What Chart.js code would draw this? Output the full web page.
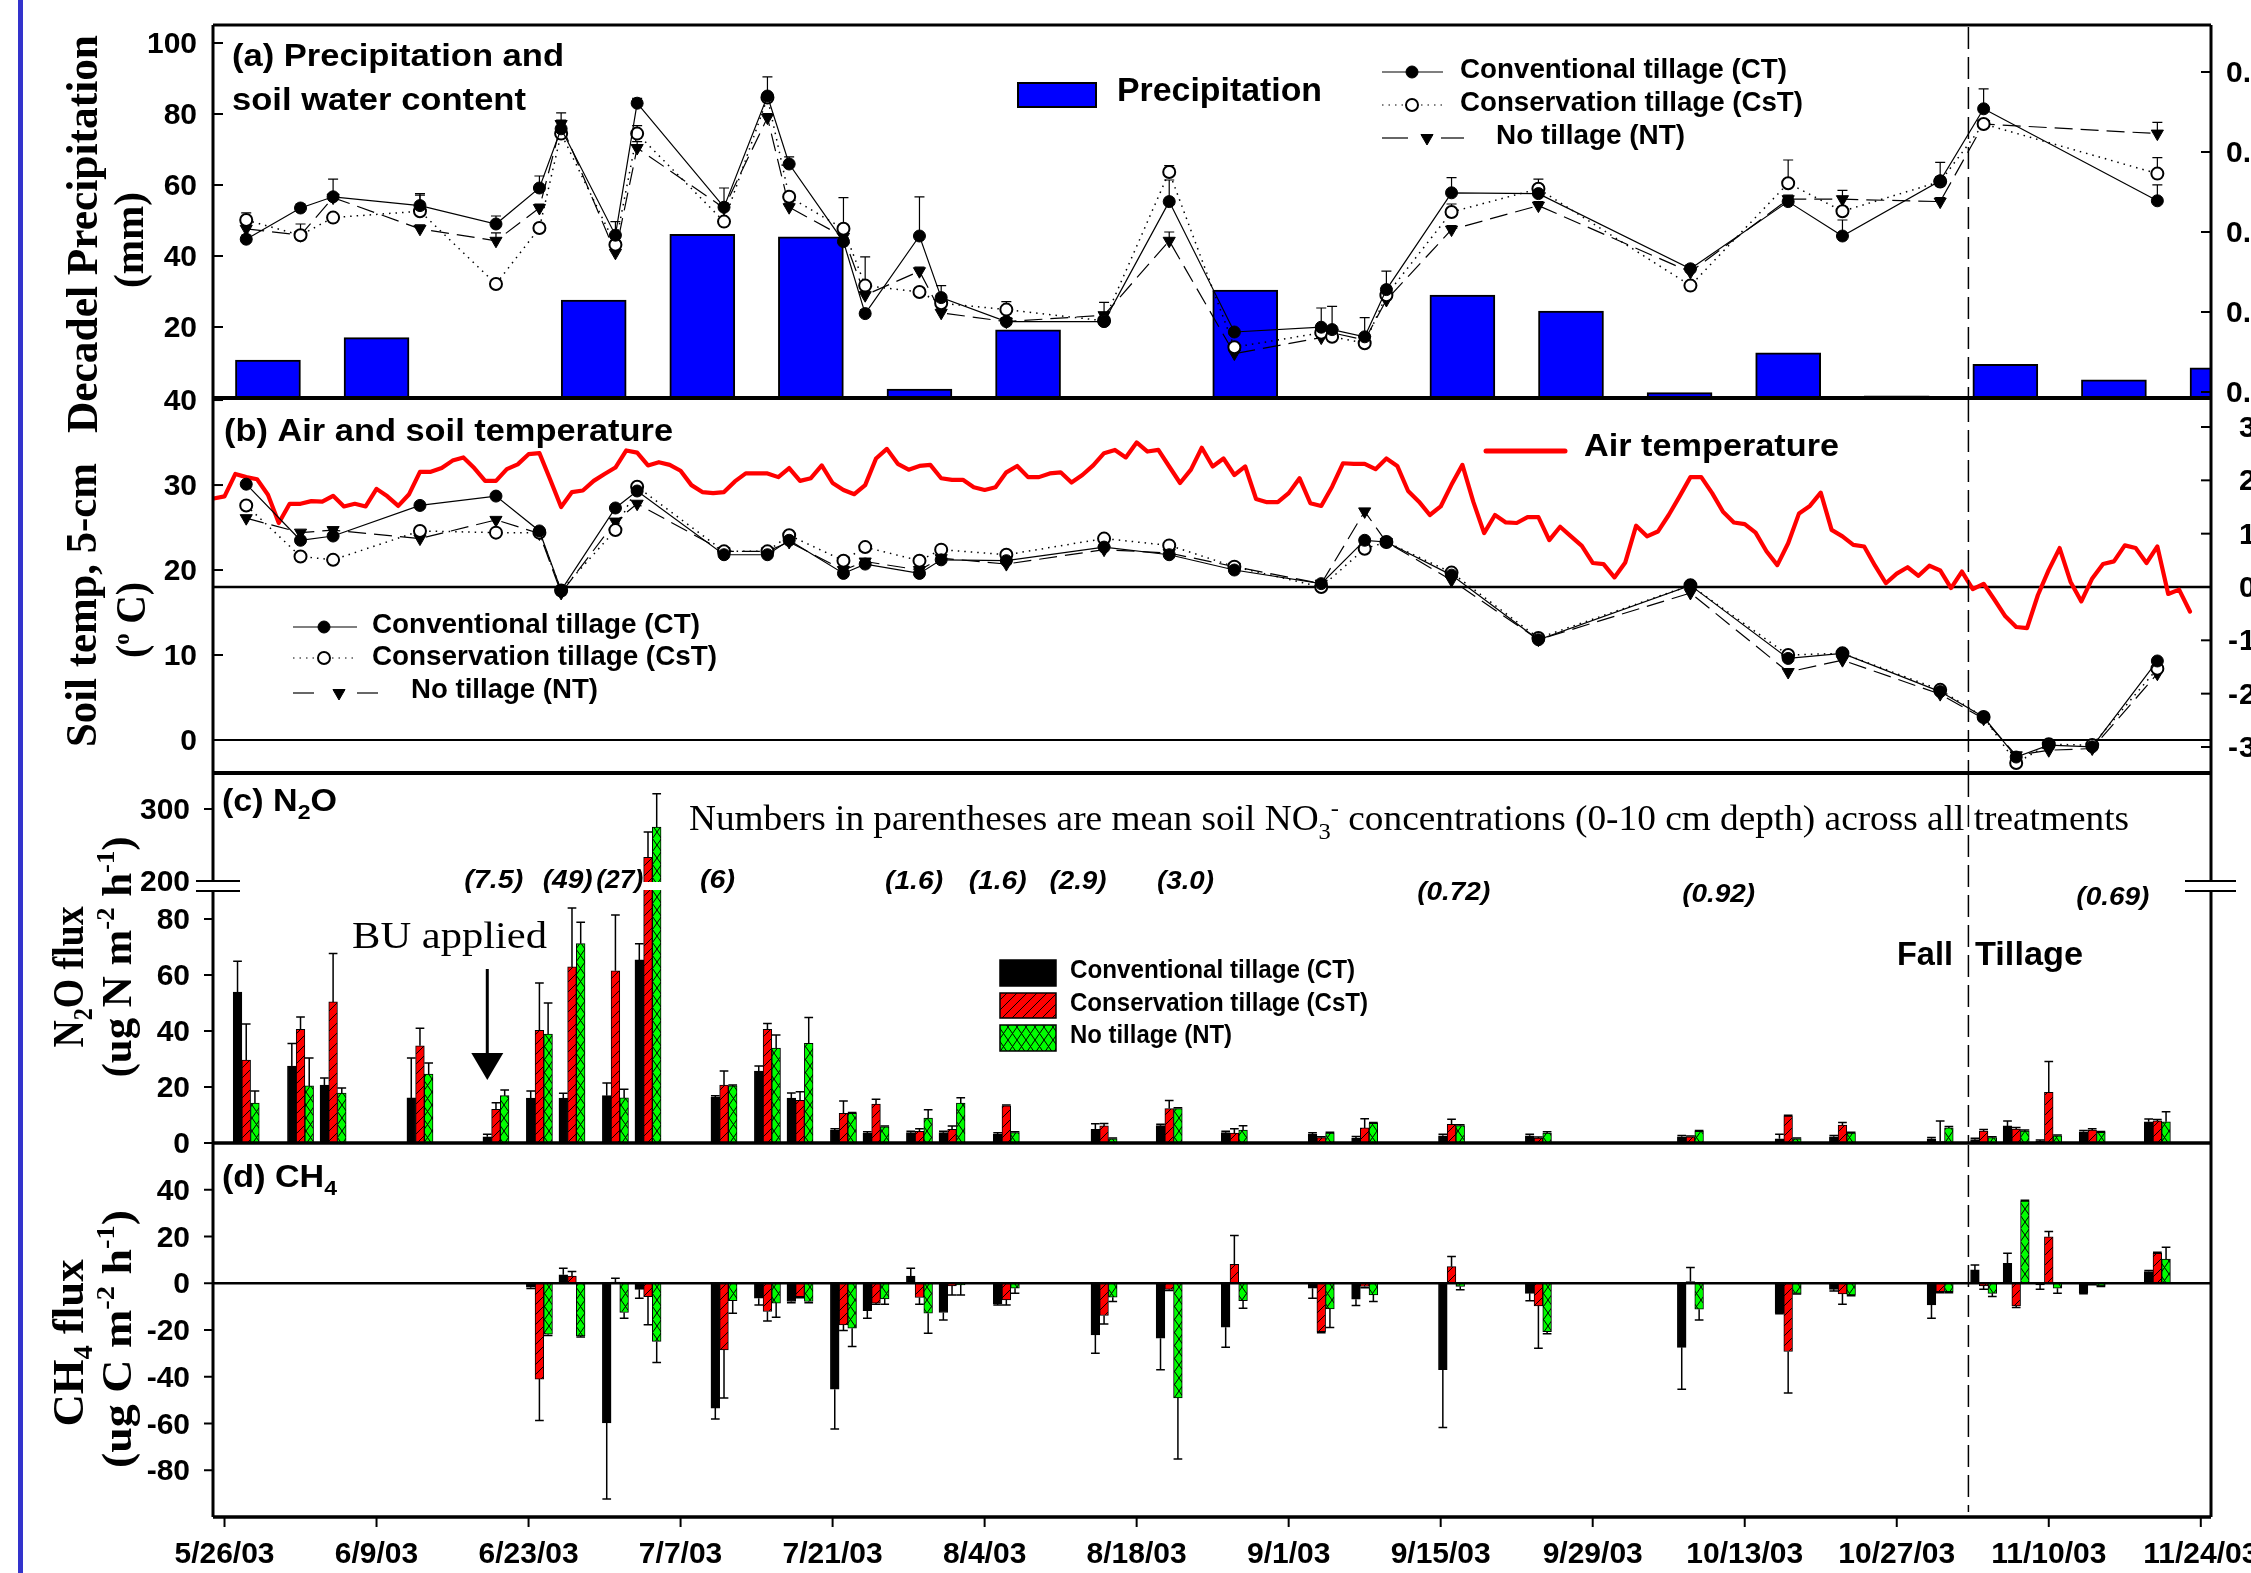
<!DOCTYPE html>
<html>
<head>
<meta charset="utf-8">
<script src="https://cdn.jsdelivr.net/npm/chart.js@4.4.0/dist/chart.umd.min.js"></script>
<style>
html, body { margin:0; padding:0; background:#fff; overflow:hidden; width:2251px; height:1573px; }
.layer { position:absolute; left:0; top:0; }
#stripe { position:absolute; left:18px; top:0; width:5px; height:1573px; background:#3333cc; }
</style>
</head>
<body>
<div id="stripe"></div>
<canvas id="cA" class="layer" width="2300" height="1573"></canvas>
<canvas id="cB" class="layer" width="2300" height="1573"></canvas>
<canvas id="cC" class="layer" width="2300" height="1573"></canvas>
<canvas id="cD" class="layer" width="2300" height="1573"></canvas>
<script>
// ---------------- DATA ----------------
const dateTicks = ['5/26/03','6/9/03','6/23/03','7/7/03','7/21/03','8/4/03','8/18/03','9/1/03','9/15/03','9/29/03','10/13/03','10/27/03','11/10/03','11/24/03'];
const precipTicks = [20, 40, 60, 80, 100];
const swcTicks = [0.1, 0.2, 0.3, 0.4, 0.5];
const soilTTicks = [0, 10, 20, 30, 40];
const airTTicks = [-30, -20, -10, 0, 10, 20, 30];
const n2oTicks = [0, 20, 40, 60, 80, 200, 300];
const ch4Ticks = [-80, -60, -40, -20, 0, 20, 40];

// (a) decadal precipitation (mm)
const precipDates = ['5/30','6/9','6/19','6/29','7/9','7/19','7/29','8/8','8/18','8/28','9/7','9/17','9/27','10/7','10/17','10/27','11/6','11/16','11/26'];
const precipMm = [10.7,17.0,0,27.6,46.1,45.4,2.5,19.2,0,30.4,0,29.0,24.5,1.5,12.7,0.6,9.5,5.1,8.5];

// (a) soil water content (cm3 cm-3)
const swcDates = ['5/28','6/2','6/5','6/13','6/20','6/24','6/26','7/1','7/3','7/11','7/15','7/17','7/22','7/24','7/29','7/31','8/6','8/15','8/21','8/27','9/4','9/5','9/8','9/10','9/16','9/24','10/8','10/17','10/22','10/31','11/4','11/20'];
const swcCT  = [0.291,0.330,0.344,0.333,0.310,0.355,0.429,0.296,0.461,0.331,0.470,0.385,0.288,0.198,0.295,0.218,0.188,0.188,0.338,0.175,0.181,0.178,0.169,0.228,0.349,0.348,0.254,0.338,0.295,0.364,0.454,0.339];
const swcCsT = [0.315,0.296,0.318,0.326,0.235,0.305,0.423,0.284,0.423,0.313,0.468,0.344,0.304,0.233,0.225,0.211,0.203,0.189,0.375,0.156,0.174,0.169,0.161,0.221,0.325,0.354,0.233,0.361,0.326,0.363,0.435,0.373];
const swcNT  = [0.304,0.296,0.343,0.304,0.289,0.330,0.435,0.274,0.405,0.330,0.443,0.331,0.294,0.221,0.251,0.199,0.188,0.196,0.289,0.148,0.168,0.174,0.165,0.215,0.303,0.333,0.250,0.341,0.341,0.338,0.435,0.423];
const swcErrCT  = [0.005,0.005,0.022,0.015,0.010,0.015,0.020,0.017,0.006,0.005,0.024,0.009,0.005,0.005,0.049,0.015,0.005,0.005,0.027,0.015,0.024,0.029,0.024,0.023,0.019,0.018,0.005,0.005,0.020,0.005,0.025,0.020];
const swcErrCsT = [0.009,0.014,0.005,0.020,0.005,0.005,0.005,0.005,0.010,0.005,0.005,0.005,0.039,0.036,0.005,0.005,0.010,0.005,0.008,0.005,0.005,0.005,0.005,0.005,0.010,0.005,0.005,0.029,0.005,0.024,0.005,0.020];
const swcErrNT  = [0.005,0.005,0.005,0.005,0.010,0.005,0.005,0.005,0.008,0.025,0.005,0.005,0.005,0.005,0.005,0.005,0.005,0.016,0.011,0.005,0.005,0.005,0.005,0.005,0.005,0.005,0.005,0.005,0.011,0.005,0.005,0.014];

// (b) daily air temperature (deg C), starting 5/25/03
const airTempStart = '5/25/03';
const airTemp = [16.6,17.0,21.2,20.6,20.2,17.3,12.0,15.6,15.6,16.1,16.0,
 17.1,15.1,15.6,15.1,18.4,17.0,15.2,17.4,21.6,21.6,
 22.3,23.7,24.3,22.3,19.9,19.9,22.1,23.0,24.9,25.1,
 20.1,15.0,17.8,18.1,19.9,21.2,22.4,25.6,25.2,22.8,
 23.4,22.9,21.8,19.1,17.8,17.6,17.8,19.8,21.3,21.3,
 21.3,20.6,22.3,19.9,20.4,22.8,19.5,18.2,17.4,19.1,
 24.1,25.9,23.1,22.0,22.7,22.9,20.4,20.1,20.1,18.7,
 18.2,18.7,21.5,22.7,20.6,20.6,21.3,21.5,19.6,21.0,
 22.8,25.1,25.7,24.3,27.1,25.4,25.7,22.6,19.5,22.0,
 26.1,22.6,24.1,21.0,22.6,16.5,15.9,15.9,17.6,20.4,
 15.7,15.2,18.8,23.2,23.1,23.1,22.1,24.1,22.7,18.0,
 16.0,13.5,15.1,19.2,22.9,16.0,10.1,13.5,12.1,12.0,
 13.1,13.1,8.8,11.3,9.5,7.7,4.5,4.3,1.8,4.6,
 11.5,9.5,10.4,13.5,17.0,20.6,20.6,17.6,14.1,12.1,
 11.8,10.2,6.7,4.1,8.2,13.8,15.2,17.7,10.7,9.5,
 7.9,7.6,4.0,0.7,2.5,3.7,2.1,4.0,3.1,-0.2,
 2.9,-0.4,0.6,-2.4,-5.5,-7.5,-7.7,-1.5,3.2,7.3,
 1.0,-2.7,1.6,4.3,4.8,7.8,7.3,4.5,7.6,-1.3,
 -0.5,-4.6];

// (b) soil temperature at 5 cm (deg C)
const soilTDates = ['5/28','6/2','6/5','6/13','6/20','6/24','6/26','7/1','7/3','7/11','7/15','7/17','7/22','7/24','7/29','7/31','8/6','8/15','8/21','8/27','9/4','9/8','9/10','9/16','9/24','10/8','10/17','10/22','10/31','11/4','11/7','11/10','11/14','11/20'];
const soilTCT  = [30.1,23.5,24.0,27.6,28.7,24.6,17.6,27.3,29.3,21.8,21.8,23.5,19.6,20.7,19.6,21.2,21.1,22.7,21.8,20.0,18.4,23.5,23.3,19.4,11.8,18.2,9.6,10.2,5.7,2.7,-2.0,-0.6,-0.8,9.3];
const soilTCsT = [27.6,21.6,21.2,24.6,24.4,24.4,17.6,24.7,29.8,22.2,22.2,24.1,21.1,22.7,21.1,22.4,21.8,23.7,22.9,20.4,18.0,22.5,23.3,19.7,12.0,18.2,10.0,10.2,5.9,2.7,-2.7,-0.5,-0.6,8.4];
const soilTNT  = [26.1,24.4,24.7,23.7,25.9,24.3,17.3,25.7,27.8,22.2,22.2,23.3,20.0,21.0,20.0,21.4,20.7,22.4,22.0,20.4,18.4,26.9,23.3,18.8,11.8,17.3,8.0,9.4,5.4,2.5,-1.8,-1.2,-1.0,7.8];

// (c) N2O flux (ug N m-2 h-1)
const n2oDates = ['5/28','6/2','6/5','6/13','6/20','6/24','6/27','7/1','7/4','7/11','7/15','7/18','7/22','7/25','7/29','8/1','8/6','8/15','8/21','8/27','9/4','9/8','9/16','9/24','10/8','10/17','10/22','10/31','11/4','11/7','11/10','11/14','11/20'];
const n2oCT  = [53.9,27.5,20.7,16.1,2.2,16.0,16.0,16.9,65.4,16.4,25.7,16.0,4.6,3.5,3.7,3.7,3.2,4.9,6.2,3.7,3.2,1.8,2.6,2.6,2.2,1.5,2.2,1.5,1.2,6.1,0.6,4.0,7.6];
const n2oCsT = [29.6,40.6,50.4,34.7,12.0,40.2,62.9,61.5,233,20.7,40.6,15.2,10.6,13.9,4.2,4.9,13.3,6.1,12.3,3.5,1.9,5.4,6.7,1.8,2.2,9.6,6.4,0.5,4.3,5.0,18.1,4.6,7.9];
const n2oNT  = [14.3,20.4,17.8,24.6,16.9,38.9,71.2,16.1,275,20.4,33.9,35.6,10.6,5.8,8.9,14.3,3.7,1.5,12.3,4.6,3.5,7.0,6.2,3.5,4.2,1.5,3.5,5.4,1.9,4.3,2.6,3.8,7.6];
const n2oErrCT  = [11,8,2.5,14.3,0.9,2.6,1.8,4.5,5.8,0.5,1.8,1.9,0.5,0.5,0.5,0.5,0.5,2.0,0.5,0.5,0.5,0.5,0.5,0.5,0.5,1.6,0.5,0.5,0.5,1.8,0.5,0.5,1.0];
const n2oErrCsT = [12.9,4.4,17.3,6.3,2.4,16.9,21,19.9,35,5.0,2.1,3.1,4.4,1.7,0.9,1.2,0.3,0.9,2.9,1.6,0.3,3.3,1.8,0.3,0.3,0.3,0.9,7.4,0.5,0.5,11,0.5,0.5];
const n2oErrNT  = [4.3,10,1.8,4,2,11.1,7.6,3.1,46,0.3,4.7,9.2,0.3,0.3,3,1.9,0.3,0.3,0.3,1.6,0.3,0.3,0.3,0.5,0.3,0.3,0.3,0.5,0.3,0.3,0.3,0.3,3.6];

// soil NO3- notes (text, centre day after 5/26/03)
const no3Text = ['(7.5)','(49)','(27)','(6)','(1.6)','(1.6)','(2.9)','(3.0)','(0.72)','(0.92)','(0.69)'];
const no3Day  = [24.8,31.6,36.4,45.4,63.5,71.2,78.6,88.5,113.2,137.6,173.9];

// (d) CH4 flux (ug C m-2 h-1)
const ch4Dates = ['6/24','6/27','7/1','7/4','7/11','7/15','7/18','7/22','7/25','7/29','8/1','8/6','8/15','8/21','8/27','9/4','9/8','9/16','9/24','10/8','10/17','10/22','10/31','11/4','11/7','11/10','11/14','11/20'];
const ch4CT  = [-1.7,3.6,-59.8,-2.6,-53.4,-6.4,-7.8,-45.3,-11.7,3.1,-12.5,-8.8,-22.1,-23.5,-18.8,-2.1,-6.8,-37.0,-4.3,-27.4,-12.8,-2.6,-9.3,5.7,8.5,-0.7,-4.0,5.0];
const ch4CsT = [-41.0,3.1,0.5,-5.7,-28.5,-12.1,-5.7,-17.8,-8.5,-6.1,-1.1,-7.1,-13.8,-2.6,8.1,-20.7,-1.4,7.1,-9.7,0.7,-29.2,-4.6,-3.6,-1.1,-9.7,19.9,-0.3,12.8];
const ch4NT  = [-21.8,-22.5,-12.5,-24.9,-7.5,-8.5,-7.8,-19.2,-6.7,-12.8,-0.7,-2.1,-6.0,-49.1,-7.5,-11.0,-5.0,-1.4,-20.7,-11.1,-4.3,-5.0,-3.6,-4.3,35.2,-2.1,-1.1,10.3];
const ch4ErrCT  = [0.5,2.8,32.5,3.8,4.7,2.9,0.5,17.1,3.3,3.3,3.2,0.5,7.8,13.5,8.6,4.3,2.7,24.7,3.2,17.9,0.3,0.7,5.7,2.1,4.3,1.9,0.5,0.5];
const ch4ErrCsT = [17.7,1.9,1.6,12.1,20.6,4.0,0.5,2.4,0.5,2.9,3.9,2.2,3.6,0.5,12.3,0.5,0.5,4.3,18.1,6.0,17.8,4.4,0.5,1.5,0.7,2.2,0.3,0.5];
const ch4ErrNT  = [0.5,0.5,2.5,9.0,5.3,6.0,0.5,7.9,2.3,8.6,4.3,2.2,1.8,26.1,3.2,7.9,2.8,1.4,0.9,4.6,0.3,0.3,0.5,1.4,0.3,2.2,0.3,5.1];

// events
const fallTillageDay = 160.6;
const buAppliedDay = 24.2;

// ---------------- HELPERS ----------------
const W = 2300, H = 1573;
const X_MIN = -1.06, X_MAX = 182.94;
const LEFT_W = 213, PLOT_R = 2211, RIGHT_W = W - PLOT_R;
const SANS = '"Liberation Sans", Arial, Helvetica, sans-serif';
const SERIF = '"Liberation Serif", "Times New Roman", Times, serif';
const B = px => `bold ${px}px ${SANS}`;
const TB = px => `bold ${px}px ${SERIF}`;
const BASE = Date.UTC(2003, 4, 26);
function day(s) { const p = s.split('/'); return (Date.UTC(2003, +p[0] - 1, +p[1]) - BASE) / 864e5; }
const pts = (dates, vals) => dates.map((d, i) => ({ x: day(d), y: vals[i] }));

const N2O_LO = 90, N2O_HI = 200, N2O_GAP = 10 / 2.8, N2O_UP = 0.72 / 2.8;
function n2oU(v) {
  if (v <= N2O_LO) return v;
  if (v >= N2O_HI) return N2O_LO + N2O_GAP + (v - N2O_HI) * N2O_UP;
  return N2O_LO + (v - N2O_LO) / (N2O_HI - N2O_LO) * N2O_GAP;
}

function rich(g, parts, x, y, width, align) {
  g.save();
  const ws = parts.map(p => { g.font = p.f; return g.measureText(p.t).width; });
  const total = ws.reduce((a, b) => a + b, 0);
  const sx = width ? width / total : 1;
  g.translate(x, y); g.scale(sx, 1);
  let cx = align === 'center' ? -total / 2 : (align === 'right' ? -total : 0);
  g.textAlign = 'left'; g.textBaseline = 'alphabetic'; g.fillStyle = '#000';
  parts.forEach((p, i) => { g.font = p.f; g.fillText(p.t, cx, p.dy || 0); cx += ws[i]; });
  g.restore();
}
function text(g, t, f, x, y, width, align) { rich(g, [{ t, f }], x, y, width, align); }
function vtext(g, parts, bx, cy, len) {
  g.save(); g.translate(bx, cy); g.rotate(-Math.PI / 2);
  rich(g, parts, 0, 0, len, 'center'); g.restore();
}

function hatch(bg, kind) {
  const c = document.createElement('canvas');
  const w = kind === 'diag' ? 10 : 9, h = kind === 'diag' ? 10 : 13;
  c.width = w; c.height = h;
  const g = c.getContext('2d');
  g.fillStyle = bg; g.fillRect(0, 0, w, h);
  g.strokeStyle = '#000'; g.lineWidth = 1; g.beginPath();
  if (kind === 'diag') {
    g.moveTo(0, h); g.lineTo(w, 0);
    g.moveTo(-w, h); g.lineTo(w, -h);
    g.moveTo(0, 2 * h); g.lineTo(2 * w, 0);
  } else {
    g.moveTo(0, 0); g.lineTo(w, h); g.moveTo(0, h); g.lineTo(w, 0);
  }
  g.stroke();
  return g.createPattern(c, 'repeat');
}
const PAT_RED = hatch('#ff0000', 'diag');
const PAT_GREEN = hatch('#00ff00', 'cross');

// tick marks + labels; labels right-aligned at labelX, or (leftAlign) digits starting at labelX with a hanging minus sign
function yAxisDecor(c, id, vals, o) {
  const s = c.scales[id], a = c.chartArea, g = c.ctx;
  g.save(); g.strokeStyle = '#000'; g.lineWidth = 2; g.fillStyle = '#000';
  g.font = o.font; g.textBaseline = 'alphabetic';
  vals.forEach(v => {
    const y = s.getPixelForValue(o.map ? o.map(v) : v);
    const x0 = o.side === 'left' ? a.left : a.right;
    const dir = ((o.side === 'left') === o.inside) ? 1 : -1;
    g.beginPath(); g.moveTo(x0, y); g.lineTo(x0 + dir * o.tick, y); g.stroke();
    const lab = o.fmt ? o.fmt(v) : String(v);
    if (o.leftAlign) {
      const neg = lab.startsWith('-');
      const body = neg ? lab.slice(1) : lab;
      g.textAlign = 'left'; g.fillText(body, o.labelX, y + o.dy);
      if (neg) { g.textAlign = 'right'; g.fillText('-', o.labelX - 1, y + o.dy); }
    } else {
      g.textAlign = 'right'; g.fillText(lab, o.labelX, y + o.dy);
    }
  });
  g.restore();
}

function errBars(c, dsIndex, ends, capW, lw) {
  const meta = c.getDatasetMeta(dsIndex), ys = c.scales[meta.yAxisID], g = c.ctx;
  g.save(); g.strokeStyle = '#000'; g.lineWidth = lw || 1.5; g.setLineDash([]);
  meta.data.forEach((el, i) => {
    const e = ends[i]; if (e == null) return;
    const yE = ys.getPixelForValue(e);
    const w = (capW || el.width) / 2;
    g.beginPath(); g.moveTo(el.x, el.y); g.lineTo(el.x, yE);
    g.moveTo(el.x - w, yE); g.lineTo(el.x + w, yE); g.stroke();
  });
  g.restore();
}
const barEnds = (v, e, f) => v.map((x, i) => (f || (z => z))(x + (x < 0 ? -e[i] : e[i])));

function hline(g, x0, x1, y, lw) { g.save(); g.strokeStyle = '#000'; g.lineWidth = lw; g.beginPath(); g.moveTo(x0, y); g.lineTo(x1, y); g.stroke(); g.restore(); }
function vline(g, x, y0, y1, lw) { g.save(); g.strokeStyle = '#000'; g.lineWidth = lw; g.beginPath(); g.moveTo(x, y0); g.lineTo(x, y1); g.stroke(); g.restore(); }

function fallLine(c, yEndTrim) {
  const g = c.ctx, a = c.chartArea, x = c.scales.x.getPixelForValue(fallTillageDay);
  g.save(); g.strokeStyle = '#000'; g.lineWidth = 1.5; g.setLineDash([22, 8]);
  g.beginPath(); g.moveTo(x, a.top + 2); g.lineTo(x, a.bottom - (yEndTrim || 0)); g.stroke(); g.restore();
}

function symbol(g, kind, x, y) {
  g.save(); g.setLineDash([]);
  g.strokeStyle = '#000';
  if (kind === 'CsT') { g.fillStyle = '#fff'; g.lineWidth = 2; }
  else { g.fillStyle = '#000'; g.lineWidth = 1; }
  Chart.helpers.drawPoint(g, {
    pointStyle: kind === 'NT' ? 'triangle' : 'circle',
    rotation: kind === 'NT' ? 180 : 0,
    radius: kind === 'NT' ? 7 : 6,
    borderWidth: kind === 'CsT' ? 2 : 1
  }, x, y);
  g.restore();
}
function legendLine(g, kind, segs, mx, y) {
  g.save(); g.strokeStyle = '#000'; g.lineWidth = 1.2;
  if (kind === 'CsT') g.setLineDash([1.5, 5]);
  segs.forEach(([a, b]) => { g.beginPath(); g.moveTo(a, y); g.lineTo(b, y); g.stroke(); });
  g.restore();
  symbol(g, kind, mx, y);
}

function lineStyle(kind) {
  if (kind === 'CT') return { borderColor: '#000', borderWidth: 1.2, pointStyle: 'circle', pointRadius: 6, pointBackgroundColor: '#000', pointBorderColor: '#000', pointBorderWidth: 1 };
  if (kind === 'CsT') return { borderColor: '#000', borderWidth: 1.5, borderDash: [1.5, 5], pointStyle: 'circle', pointRadius: 6, pointBackgroundColor: '#fff', pointBorderColor: '#000', pointBorderWidth: 2 };
  return { borderColor: '#000', borderWidth: 1.2, borderDash: [18, 8], pointStyle: 'triangle', pointRotation: 180, pointRadius: 7, pointBackgroundColor: '#000', pointBorderColor: '#000', pointBorderWidth: 1 };
}

function yScale(pos, min, max, width) {
  return { type: 'linear', position: pos, min, max, beginAtZero: false,
    afterFit: s => { s.width = width; },
    ticks: { display: false }, grid: { display: false }, border: { display: false } };
}

function makeChart(id, type, top, bottom, datasets, yScales, hooks, showX) {
  const scales = {
    x: { type: 'linear', min: X_MIN, max: X_MAX, offset: false, display: !!showX,
      grid: { display: false, offset: false }, border: { display: false }, ticks: { display: false } }
  };
  if (showX) scales.x.afterFit = s => { s.height = H - bottom; };
  Object.assign(scales, yScales);
  const hasRight = Object.values(yScales).some(s => s.position === 'right');
  return new Chart(document.getElementById(id), {
    type, data: { datasets },
    options: {
      responsive: false, animation: false, devicePixelRatio: 1, events: [],
      layout: { padding: { top, bottom: showX ? 0 : H - bottom, left: 0, right: hasRight ? 0 : RIGHT_W } },
      plugins: { legend: { display: false }, tooltip: { enabled: false } },
      scales
    },
    plugins: [{ id: 'decor' + id,
      beforeDatasetsDraw: c => { if (hooks.before) hooks.before(c); },
      afterDatasetsDraw: c => { if (hooks.after) hooks.after(c); } }]
  });
}

const TICKFONT = B(30);

// ---------------- PANEL A ----------------
makeChart('cA', 'bar', 25, 398, [
  Object.assign({ type: 'line', data: pts(swcDates, swcCT), yAxisID: 'y2', order: 0, clip: false, tension: 0 }, lineStyle('CT')),
  Object.assign({ type: 'line', data: pts(swcDates, swcCsT), yAxisID: 'y2', order: 0, clip: false, tension: 0 }, lineStyle('CsT')),
  Object.assign({ type: 'line', data: pts(swcDates, swcNT), yAxisID: 'y2', order: 0, clip: false, tension: 0 }, lineStyle('NT')),
  { type: 'bar', data: pts(precipDates, precipMm), yAxisID: 'y', order: 1, backgroundColor: '#0000ff', borderColor: '#000', borderWidth: 2, barThickness: 65 }
], {
  y: yScale('left', 0, 105.07, LEFT_W),
  y2: yScale('right', 0.0925, 0.55875, RIGHT_W)
}, {
  before: c => {
    errBars(c, 0, swcCT.map((v, i) => v + swcErrCT[i]), 10, 1.2);
    errBars(c, 1, swcCsT.map((v, i) => v + swcErrCsT[i]), 10, 1.2);
    errBars(c, 2, swcNT.map((v, i) => v + swcErrNT[i]), 10, 1.2);
  },
  after: c => {
    const g = c.ctx, a = c.chartArea;
    hline(g, a.left, a.right, a.top, 3);
    hline(g, a.left, a.right, a.bottom, 4);
    vline(g, a.left, a.top, a.bottom, 3);
    vline(g, a.right, a.top, a.bottom, 3);
    yAxisDecor(c, 'y', precipTicks, { side: 'left', inside: true, tick: 10, labelX: 197, dy: 10, font: TICKFONT });
    yAxisDecor(c, 'y2', swcTicks, { side: 'right', inside: true, tick: 10, labelX: 2226, dy: 10, font: TICKFONT, fmt: v => v.toFixed(1), leftAlign: true });
    text(g, '(a) Precipitation and', B(31), 232, 66, 332);
    text(g, 'soil water content', B(31), 232, 110, 294);
    g.save(); g.fillStyle = '#0000ff'; g.fillRect(1018, 83, 78, 24); g.strokeStyle = '#000'; g.lineWidth = 2; g.strokeRect(1018, 83, 78, 24); g.restore();
    text(g, 'Precipitation', B(33), 1117, 101, 205);
    legendLine(g, 'CT', [[1382, 1443]], 1412, 72);
    legendLine(g, 'CsT', [[1382, 1443]], 1412, 105);
    legendLine(g, 'NT', [[1382, 1408], [1441, 1464]], 1427, 138);
    text(g, 'Conventional tillage (CT)', B(27), 1460, 78, 327);
    text(g, 'Conservation tillage (CsT)', B(27), 1460, 111, 343);
    text(g, 'No tillage (NT)', B(27), 1496, 144, 189);
    vtext(g, [{ t: 'Decadel Precipitation', f: TB(44) }], 97, 234, 398);
    vtext(g, [{ t: '(mm)', f: TB(42) }], 143, 240, 96);
    fallLine(c);
  }
});

// ---------------- PANEL B ----------------
makeChart('cB', 'line', 398, 773, [
  Object.assign({ data: pts(soilTDates, soilTCT), yAxisID: 'y', clip: false, tension: 0 }, lineStyle('CT')),
  Object.assign({ data: pts(soilTDates, soilTCsT), yAxisID: 'y', clip: false, tension: 0 }, lineStyle('CsT')),
  Object.assign({ data: pts(soilTDates, soilTNT), yAxisID: 'y', clip: false, tension: 0 }, lineStyle('NT')),
  { data: airTemp.map((v, i) => ({ x: day(airTempStart) + i, y: v })), yAxisID: 'y2', borderColor: '#ff0000', borderWidth: 4.2, pointRadius: 0, tension: 0, borderJoinStyle: 'round', borderCapStyle: 'round' }
], {
  y: yScale('left', -3.88, 40.24, LEFT_W),
  y2: yScale('right', -34.88, 35.44, RIGHT_W)
}, {
  before: c => {
    const g = c.ctx, a = c.chartArea;
    hline(g, a.left, a.right, c.scales.y.getPixelForValue(0), 2);
    hline(g, a.left, a.right, c.scales.y2.getPixelForValue(0), 2.5);
  },
  after: c => {
    const g = c.ctx, a = c.chartArea;
    hline(g, a.left, a.right, a.top, 4);
    hline(g, a.left, a.right, a.bottom, 4);
    vline(g, a.left, a.top, a.bottom, 3);
    vline(g, a.right, a.top, a.bottom, 3);
    yAxisDecor(c, 'y', soilTTicks, { side: 'left', inside: true, tick: 10, labelX: 197, dy: 10, font: TICKFONT });
    yAxisDecor(c, 'y2', airTTicks, { side: 'right', inside: true, tick: 10, labelX: 2239, dy: 10, font: TICKFONT, leftAlign: true });
    text(g, '(b) Air and soil temperature', B(31), 224, 441, 449);
    g.save(); g.strokeStyle = '#ff0000'; g.lineWidth = 5; g.lineCap = 'round'; g.beginPath(); g.moveTo(1486, 451); g.lineTo(1565, 451); g.stroke(); g.restore();
    text(g, 'Air temperature', B(31), 1584, 456, 255);
    legendLine(g, 'CT', [[293, 357]], 324, 627);
    legendLine(g, 'CsT', [[293, 357]], 324, 658);
    legendLine(g, 'NT', [[293, 314], [357, 378]], 339, 693);
    text(g, 'Conventional tillage (CT)', B(27), 372, 633, 328);
    text(g, 'Conservation tillage (CsT)', B(27), 372, 665, 345);
    text(g, 'No tillage (NT)', B(27), 411, 698, 187);
    vtext(g, [{ t: 'Soil temp, 5-cm', f: TB(44) }], 96, 605, 284);
    vtext(g, [{ t: '(', f: TB(42) }, { t: 'o', f: TB(24), dy: -16 }, { t: ' C)', f: TB(42) }], 145, 620, 76);
    fallLine(c);
  }
});

// ---------------- PANEL C ----------------
const barCommon = { borderColor: '#000', borderWidth: 1, barThickness: 8.7 };
makeChart('cC', 'bar', 773, 1143, [
  Object.assign({ data: pts(n2oDates, n2oCT.map(n2oU)), stack: 'ct', backgroundColor: '#000' }, barCommon),
  Object.assign({ data: pts(n2oDates, n2oCsT.map(n2oU)), stack: 'cst', backgroundColor: PAT_RED }, barCommon),
  Object.assign({ data: pts(n2oDates, n2oNT.map(n2oU)), stack: 'nt', backgroundColor: PAT_GREEN }, barCommon)
], {
  y: yScale('left', 0, 132.14, LEFT_W)
}, {
  after: c => {
    const g = c.ctx, a = c.chartArea, ys = c.scales.y;
    errBars(c, 0, barEnds(n2oCT, n2oErrCT, n2oU));
    errBars(c, 1, barEnds(n2oCsT, n2oErrCsT, n2oU));
    errBars(c, 2, barEnds(n2oNT, n2oErrNT, n2oU));
    const yHi = ys.getPixelForValue(n2oU(N2O_HI)), yLo = ys.getPixelForValue(N2O_LO);
    g.save(); g.fillStyle = '#fff'; g.fillRect(a.left + 2, yHi + 1, a.right - a.left - 4, yLo - yHi - 2); g.restore();
    hline(g, a.left, a.right, a.top, 4);
    hline(g, a.left, a.right, a.bottom, 3.5);
    vline(g, a.left, a.top, yHi, 3); vline(g, a.left, yLo, a.bottom, 3);
    vline(g, a.right, a.top, yHi, 3); vline(g, a.right, yLo, a.bottom, 3);
    hline(g, 196, 240, yHi, 2); hline(g, 196, 240, yLo, 2);
    hline(g, 2185, 2236, yHi, 2); hline(g, 2185, 2236, yLo, 2);
    yAxisDecor(c, 'y', n2oTicks, { side: 'left', inside: false, tick: 9, labelX: 190, dy: 10, font: TICKFONT, map: n2oU });
    rich(g, [{ t: '(c) N', f: B(31) }, { t: '2', f: B(21), dy: 8 }, { t: 'O', f: B(31) }], 222, 811, 115);
    rich(g, [{ t: 'Numbers in parentheses are mean soil NO', f: `35px ${SERIF}` }, { t: '3', f: `23px ${SERIF}`, dy: 9 },
      { t: '-', f: `23px ${SERIF}`, dy: -14 }, { t: ' concentrations (0-10 cm depth) across all treatments', f: `35px ${SERIF}` }], 689, 830, 1440);
    const xs = c.scales.x;
    const no3Base = [888, 888, 888, 888, 889, 889, 889, 889, 900, 902, 905];
    const no3W = [59, 50, 47, 35, 58, 58, 57, 57, 73, 73, 73];
    no3Text.forEach((t, i) => text(g, t, `italic bold 25px ${SANS}`, xs.getPixelForValue(no3Day[i]), no3Base[i], no3W[i], 'center'));
    text(g, 'BU applied', `38px ${SERIF}`, 352, 948, 195);
    const ax = xs.getPixelForValue(buAppliedDay);
    vline(g, ax, 969, 1054, 3);
    g.save(); g.fillStyle = '#000'; g.beginPath(); g.moveTo(ax - 16, 1053); g.lineTo(ax + 16, 1053); g.lineTo(ax, 1080); g.closePath(); g.fill(); g.restore();
    g.save(); g.strokeStyle = '#000'; g.lineWidth = 1.5;
    g.fillStyle = '#000'; g.fillRect(1000, 960, 56, 26); g.strokeRect(1000, 960, 56, 26);
    g.fillStyle = PAT_RED; g.fillRect(1000, 993, 56, 25); g.strokeRect(1000, 993, 56, 25);
    g.fillStyle = PAT_GREEN; g.fillRect(1000, 1025, 56, 26); g.strokeRect(1000, 1025, 56, 26);
    g.restore();
    text(g, 'Conventional tillage (CT)', B(25), 1070, 978, 285);
    text(g, 'Conservation tillage (CsT)', B(25), 1070, 1011, 298);
    text(g, 'No tillage (NT)', B(25), 1070, 1043, 162);
    text(g, 'Fall', B(33), 1897, 965, 56);
    text(g, 'Tillage', B(33), 1975, 965, 108);
    vtext(g, [{ t: 'N', f: TB(44) }, { t: '2', f: TB(28), dy: 9 }, { t: 'O flux', f: TB(44) }], 83, 977, 141);
    vtext(g, [{ t: '(ug N m', f: TB(42) }, { t: '-2', f: TB(26), dy: -17 }, { t: ' h', f: TB(42) }, { t: '-1', f: TB(26), dy: -17 }, { t: ')', f: TB(42) }], 131, 957, 241);
    fallLine(c);
  }
});

// ---------------- PANEL D ----------------
makeChart('cD', 'bar', 1143, 1517, [
  Object.assign({ data: pts(ch4Dates, ch4CT), stack: 'ct', backgroundColor: '#000' }, barCommon),
  Object.assign({ data: pts(ch4Dates, ch4CsT), stack: 'cst', backgroundColor: PAT_RED }, barCommon),
  Object.assign({ data: pts(ch4Dates, ch4NT), stack: 'nt', backgroundColor: PAT_GREEN }, barCommon)
], {
  y: yScale('left', -100, 60, LEFT_W)
}, {
  after: c => {
    const g = c.ctx, a = c.chartArea, ys = c.scales.y, xs = c.scales.x;
    errBars(c, 0, barEnds(ch4CT, ch4ErrCT));
    errBars(c, 1, barEnds(ch4CsT, ch4ErrCsT));
    errBars(c, 2, barEnds(ch4NT, ch4ErrNT));
    hline(g, a.left, a.right, ys.getPixelForValue(0), 2.5);
    hline(g, a.left, a.right, a.bottom, 3.5);
    vline(g, a.left, a.top, a.bottom, 3);
    vline(g, a.right, a.top, a.bottom, 3);
    yAxisDecor(c, 'y', ch4Ticks, { side: 'left', inside: false, tick: 9, labelX: 190, dy: 10, font: TICKFONT });
    g.save(); g.strokeStyle = '#000'; g.lineWidth = 2; g.fillStyle = '#000'; g.font = TICKFONT; g.textAlign = 'center'; g.textBaseline = 'alphabetic';
    dateTicks.forEach(t => {
      const x = xs.getPixelForValue(day(t));
      g.beginPath(); g.moveTo(x, a.bottom); g.lineTo(x, a.bottom + 10); g.stroke();
      g.fillText(t, x, 1563);
    });
    g.restore();
    rich(g, [{ t: '(d) CH', f: B(31) }, { t: '4', f: B(21), dy: 8 }], 222, 1187, 115);
    vtext(g, [{ t: 'CH', f: TB(44) }, { t: '4', f: TB(28), dy: 9 }, { t: ' flux', f: TB(44) }], 83, 1343, 167);
    vtext(g, [{ t: '(ug C m', f: TB(42) }, { t: '-2', f: TB(26), dy: -17 }, { t: ' h', f: TB(42) }, { t: '-1', f: TB(26), dy: -17 }, { t: ')', f: TB(42) }], 131, 1339, 258);
    fallLine(c, 5);
  }
}, true);
</script>
</body>
</html>
